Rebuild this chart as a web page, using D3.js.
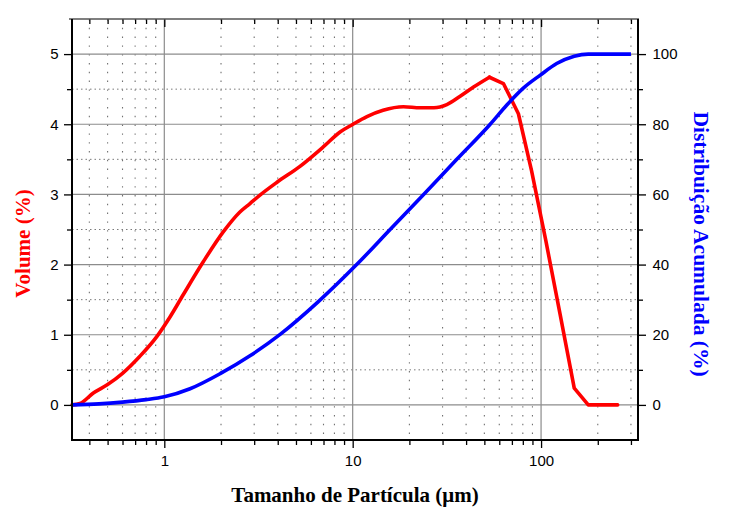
<!DOCTYPE html>
<html><head><meta charset="utf-8">
<script src="https://cdn.jsdelivr.net/npm/d3@7"></script>
<style>body{margin:0;background:#fff}</style>
</head><body><svg id="c" width="739" height="509"></svg>
<script>
// Volume (%) per particle size (µm)
const volSizes = [0.324, 0.357, 0.42, 0.5, 0.6, 0.74, 0.91, 1.07, 1.26, 1.61, 2.06, 2.52, 2.85, 3.22, 3.95, 5.25, 7.0, 8.57, 9.89, 11.9, 14.5, 18.6, 22.8, 27, 31.6, 37.2, 43.8, 53.2, 63.1, 75.8, 89, 106, 126, 150, 178, 212, 255];
const volume   = [0, 0.02, 0.17, 0.29, 0.45, 0.69, 0.97, 1.25, 1.57, 2.04, 2.47, 2.75, 2.87, 2.99, 3.17, 3.40, 3.68, 3.89, 3.99, 4.11, 4.20, 4.25, 4.235, 4.235, 4.28, 4.40, 4.53, 4.67, 4.58, 4.15, 3.34, 2.34, 1.30, 0.24, 0, 0, 0];
// Cumulative distribution (%)
const cumSizes   = [0.324, 0.45, 0.6, 0.8, 1.0, 1.37, 1.98, 2.85, 4.12, 6.53, 10.5, 15.8, 23.8, 35.7, 53.7, 65.8, 80.5, 99, 121, 150, 178, 300];
const cumulative = [0, 0.3, 0.8, 1.5, 2.3, 4.6, 8.9, 14.0, 20.1, 29.3, 40, 50, 60, 70, 80, 85.5, 90.3, 94.0, 97.3, 99.4, 100, 100];
// Ticks
const xMajorTicks = [1, 10, 100];
const xMinorTicks = [0.4,0.5,0.6,0.7,0.8,0.9,2,3,4,5,6,7,8,9,20,30,40,50,60,70,80,90,200,300];
const yLeftTicks = [0,1,2,3,4,5];
const yLeftMinor = [0.5,1.5,2.5,3.5,4.5];
const yRightTicks = [0,20,40,60,80,100];
const yRightMinor = [10,30,50,70,90];
const xTitle = "Tamanho de Partícula (μm)";
const yLeftTitle = "Volume (%)";
const yRightTitle = "Distribuição Acumulada (%)";

const svg = d3.select("#c");
const L=72, R=638, T=19, B=440;
const x = d3.scaleLog().domain([0.3236, 327]).range([L, R]);
const yL = d3.scaleLinear().domain([-0.5, 5.5]).range([B, T]);
const yR = d3.scaleLinear().domain([-10, 110]).range([B, T]);

svg.append("rect").attr("width",739).attr("height",509).attr("fill","#fff");

const grid = svg.append("g");
// minor grids
grid.selectAll(".vmin").data(xMinorTicks).join("line")
  .attr("x1", d=>x(d)).attr("x2", d=>x(d)).attr("y1", T).attr("y2", B)
  .attr("stroke","#707070").attr("stroke-width",1.1).attr("stroke-dasharray","1.4,7.4");
grid.selectAll(".hmin").data(yLeftMinor).join("line")
  .attr("x1", L).attr("x2", R).attr("y1", d=>yL(d)).attr("y2", d=>yL(d))
  .attr("stroke","#7a7a7a").attr("stroke-width",1).attr("stroke-dasharray","1.5,3");
// major grids
grid.selectAll(".vmaj").data(xMajorTicks).join("line")
  .attr("x1", d=>x(d)).attr("x2", d=>x(d)).attr("y1", T).attr("y2", B)
  .attr("stroke","#8c8c8c").attr("stroke-width",1.2);
grid.selectAll(".hmaj").data(yLeftTicks).join("line")
  .attr("x1", L).attr("x2", R).attr("y1", d=>yL(d)).attr("y2", d=>yL(d))
  .attr("stroke","#8c8c8c").attr("stroke-width",1.2);

// lines
const volData = volSizes.map((s,i)=>[s, volume[i]]);
const cumData = cumSizes.map((s,i)=>[s, cumulative[i]]);
const peakIdx = volume.indexOf(d3.max(volume));
const redStyle = p => p.attr("fill","none").attr("stroke","#ff0000").attr("stroke-width",3.6)
  .attr("stroke-linejoin","round").attr("stroke-linecap","round");
svg.append("path").datum(volData.slice(0, peakIdx+1))
  .attr("d", d3.line().x(d=>x(d[0])).y(d=>yL(d[1])).curve(d3.curveMonotoneX)).call(redStyle);
svg.append("path").datum(volData.slice(peakIdx))
  .attr("d", d3.line().x(d=>x(d[0])).y(d=>yL(d[1])).curve(d3.curveLinear)).call(redStyle);
svg.append("path").datum(cumData)
  .attr("d", d3.line().x(d=>x(d[0])).y(d=>yR(d[1])).curve(d3.curveMonotoneX))
  .attr("fill","none").attr("stroke","#0000ff").attr("stroke-width",3.6).attr("stroke-linejoin","round");

function style(g){
  g.select(".domain").remove();
  g.selectAll("line").attr("stroke","#000").attr("stroke-width",1.3);
  g.selectAll("text").attr("font-family","'Liberation Sans', Arial, sans-serif").attr("font-size",15).attr("fill","#000");
}
// bottom
svg.append("g").attr("transform",`translate(0,${B})`)
  .call(d3.axisBottom(x).tickValues(xMajorTicks).tickSize(8).tickPadding(7).tickFormat(d3.format("~g"))).call(style);
svg.append("g").attr("transform",`translate(0,${B})`)
  .call(d3.axisBottom(x).tickValues(xMinorTicks).tickSize(5).tickFormat("")).call(style);
// top (inward)
svg.append("g").attr("transform",`translate(0,${T})`)
  .call(d3.axisBottom(x).tickValues(xMajorTicks).tickSize(8).tickFormat("")).call(style);
svg.append("g").attr("transform",`translate(0,${T})`)
  .call(d3.axisBottom(x).tickValues(xMinorTicks).tickSize(5).tickFormat("")).call(style);
// left
svg.append("g").attr("transform",`translate(${L},0)`)
  .call(d3.axisLeft(yL).tickValues(yLeftTicks).tickSize(8).tickPadding(5.5).tickFormat(d3.format("d"))).call(style);
svg.append("g").attr("transform",`translate(${L},0)`)
  .call(d3.axisLeft(yL).tickValues(yLeftMinor).tickSize(5).tickFormat("")).call(style);
// right
svg.append("g").attr("transform",`translate(${R},0)`)
  .call(d3.axisRight(yR).tickValues(yRightTicks).tickSize(8).tickPadding(6.5).tickFormat(d3.format("d"))).call(style);
svg.append("g").attr("transform",`translate(${R},0)`)
  .call(d3.axisRight(yR).tickValues(yRightMinor).tickSize(5).tickFormat("")).call(style);

// frame
svg.append("line").attr("x1",L-3).attr("x2",R+1).attr("y1",T).attr("y2",T).attr("stroke","#555").attr("stroke-width",1.5);
svg.append("line").attr("x1",L).attr("x2",L).attr("y1",T).attr("y2",B+1).attr("stroke","#000").attr("stroke-width",2);
svg.append("line").attr("x1",R).attr("x2",R).attr("y1",T).attr("y2",B+1).attr("stroke","#000").attr("stroke-width",2);
svg.append("line").attr("x1",L-1).attr("x2",R+1).attr("y1",B).attr("y2",B).attr("stroke","#000").attr("stroke-width",2);

// titles
const serif = "'Liberation Serif', 'Times New Roman', serif";
svg.append("text").attr("x",(L+R)/2).attr("y",502).attr("text-anchor","middle")
  .attr("font-family",serif).attr("font-weight","bold").attr("font-size",21).attr("fill","#000").text(xTitle);
svg.append("text").attr("transform","translate(30,243.5) rotate(-90)").attr("text-anchor","middle")
  .attr("font-family",serif).attr("font-weight","bold").attr("font-size",21).attr("fill","#ff0000").text(yLeftTitle);
svg.append("text").attr("transform","translate(694,244) rotate(90)").attr("text-anchor","middle")
  .attr("font-family",serif).attr("font-weight","bold").attr("font-size",21.5).attr("fill","#0000ff").text(yRightTitle);
</script></body></html>
